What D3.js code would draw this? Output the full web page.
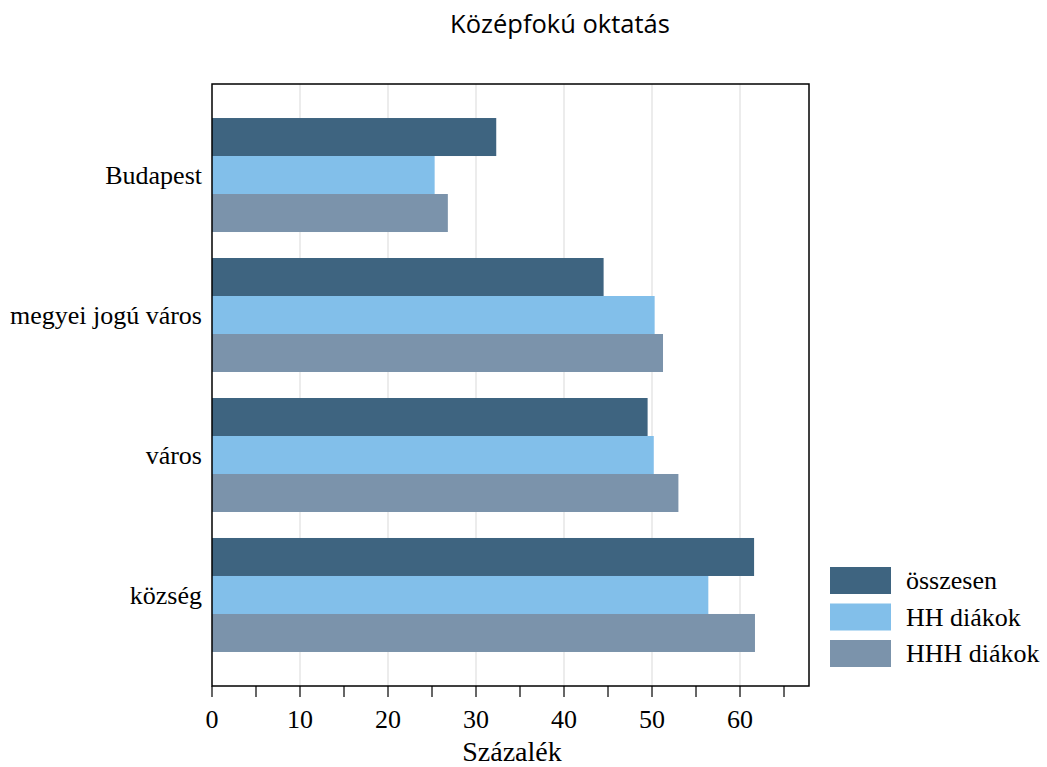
<!DOCTYPE html>
<html><head><meta charset="utf-8">
<script src="https://cdn.jsdelivr.net/npm/d3@7"></script>
<style>body{margin:0;background:#fff}</style>
</head><body>
<svg id="c" width="1047" height="767"></svg>
<script>
const categories = ["Budapest", "megyei jogú város", "város", "község"];
const seriesNames = ["összesen", "HH diákok", "HHH diákok"];
const osszesen = [32.3, 44.5, 49.5, 61.6];
const hhDiakok = [25.3, 50.3, 50.2, 56.4];
const hhhDiakok = [26.8, 51.25, 53.0, 61.7];
const xTicks = [0, 10, 20, 30, 40, 50, 60];
const colors = ["#3e6480", "#82bfea", "#7b93ab"];

const series = [osszesen, hhDiakok, hhhDiakok];
const svg = d3.select("#c");
const L = 212, R = 809, T = 84, B = 686;
const x = d3.scaleLinear().domain([0, 67.84]).range([L, R]);
const y = d3.scaleBand().domain(categories).range([T, B]).paddingInner(0.1857).paddingOuter(0.243);
const y1 = d3.scaleBand().domain(seriesNames).range([0, y.bandwidth()]);

svg.append("text").attr("x", 560).attr("y", 33).attr("text-anchor", "middle")
  .style("font-family", "Open Sans").style("font-size", "25.5px").text("Középfokú oktatás");

// grid
svg.append("g").selectAll("line").data(xTicks.slice(1)).join("line")
  .attr("x1", d => x(d)).attr("x2", d => x(d)).attr("y1", T).attr("y2", B)
  .attr("stroke", "#e6e6e6").attr("stroke-width", 1.5);

// bars
const g = svg.append("g");
categories.forEach((c, i) => {
  series.forEach((s, j) => {
    g.append("rect").attr("x", x(0)).attr("y", y(c) + y1(seriesNames[j]))
      .attr("width", x(s[i]) - x(0)).attr("height", y1.bandwidth())
      .attr("fill", colors[j]);
  });
});

// frame
svg.append("rect").attr("x", L).attr("y", T).attr("width", R - L).attr("height", B - T)
  .attr("fill", "none").attr("stroke", "#000").attr("stroke-width", 1.5);

// x axis
const minor = d3.range(5, 68, 10);
const ax = svg.append("g").attr("transform", `translate(0,${B})`);
ax.selectAll("line.t").data(xTicks.concat(minor)).join("line")
  .attr("x1", d => x(d)).attr("x2", d => x(d)).attr("y1", 0).attr("y2", 11)
  .attr("stroke", "#000").attr("stroke-width", 1.2);
ax.selectAll("text").data(xTicks).join("text")
  .attr("x", d => x(d)).attr("y", 42).attr("text-anchor", "middle")
  .style("font-family", "Liberation Serif").style("font-size", "26px").text(d => d);
svg.append("text").attr("x", 512).attr("y", 761).attr("text-anchor", "middle")
  .style("font-family", "Liberation Serif").style("font-size", "28px").text("Százalék");

// y labels
svg.append("g").selectAll("text").data(categories).join("text")
  .attr("x", 202).attr("y", d => y(d) + y.bandwidth() / 2 + 9).attr("text-anchor", "end")
  .style("font-family", "Liberation Serif").style("font-size", "26px").text(d => d);

// legend
const lg = svg.append("g");
seriesNames.forEach((n, j) => {
  const yy = 567 + j * 36.5;
  lg.append("rect").attr("x", 830).attr("y", yy).attr("width", 61).attr("height", 27).attr("fill", colors[j]);
  lg.append("text").attr("x", 906).attr("y", yy + 22)
    .style("font-family", "Liberation Serif").style("font-size", "26px").text(n);
});
</script>
</body></html>
